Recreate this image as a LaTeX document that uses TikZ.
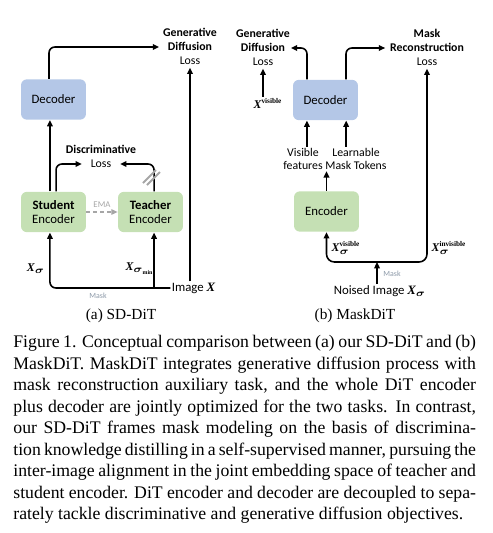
\documentclass[tikz,border=0pt]{standalone}
\usepackage{amsmath}
\usepackage{fontspec}
\setmainfont{Liberation Serif}
\newfontfamily\carlito{Carlito}
\usepackage{tikz}
\usetikzlibrary{arrows.meta, positioning, calc}
\definecolor{decblue}{HTML}{B4C7E7}
\definecolor{encgreen}{HTML}{C5E0B4}
\definecolor{emagray}{HTML}{A6A6A6}
\definecolor{maskgray}{HTML}{8C99A8}
\DeclareMathSizes{6}{6}{3.7}{3}
\newcommand{\bx}{\text{\rmfamily\bfseries\itshape X}}

\begin{document}
\begin{tikzpicture}[
    x=0.508pt, y=-0.508pt,
    block/.style={rounded corners=3pt, minimum width=33pt, minimum height=20.5pt,
                  align=center, inner sep=1pt, font=\carlito\fontsize{6.5}{7.2}\selectfont},
    decbox/.style={block, fill=decblue},
    encbox/.style={block, fill=encgreen},
    ttl/.style={inner sep=0.3pt, text height=4.5pt, text depth=1.3pt,
                font=\carlito\bfseries\fontsize{6}{7}\selectfont},
    losslbl/.style={ttl, font=\carlito\fontsize{6}{7}\selectfont},
    two/.style={inner sep=0.5pt, align=center, font=\carlito\fontsize{6}{6.8}\selectfont},
    sym/.style={inner sep=0.5pt, font=\fontsize{6}{7}\selectfont},
    note/.style={inner sep=0.5pt, text=maskgray, font=\carlito\fontsize{4}{5}\selectfont},
    input/.style={inner sep=0.5pt, font=\carlito\fontsize{6.5}{7}\selectfont},
    arr/.style={line width=0.8pt, -{Triangle[length=3.2pt,width=2.8pt]}},
    arrb/.style={arr, {Triangle[length=3.2pt,width=2.8pt]}-{Triangle[length=3.2pt,width=2.8pt]}},
    subcap/.style={font=\fontsize{7.8}{9}\selectfont}
  ]
  \useasboundingbox (0,0) rectangle (492,533);

  % (a) SD-DiT
  \node[decbox] (a-dec) at (53.5,99.5) {Decoder};
  \node[encbox] (stu) at (53.5,212) {\textbf{Student}\\Encoder};
  \node[encbox] (tea) at (150.5,212) {\textbf{Teacher}\\Encoder};

  \node[ttl] (a-dif) at (190,47) {Diffusion};
  \node[ttl, above=0.3pt of a-dif] (a-gen) {Generative};
  \node[losslbl, below=0.3pt of a-dif] (a-loss) {Loss};
  \node[losslbl] (dl) at (101,164) {Loss};
  \node[ttl, above=0.3pt of dl] (dis) {Discriminative};
  \node[input] (img) at (193.5,288) {Image \bx};

  \draw[arr] ([xshift=-1.8pt]stu.north) -- ([xshift=-1.8pt]a-dec.south);
  \draw[arr, rounded corners=3pt] ([xshift=-2.3pt]a-dec.north) |- ([xshift=-4pt]a-dif.west);
  \draw[arr, rounded corners=3pt] ([xshift=1.3pt]stu.north) |- ([xshift=-4pt]dl.west);
  \draw[arr, rounded corners=3pt] ([xshift=1.8pt]tea.north) |- ([xshift=4pt]dl.east);
  \draw[arr, rounded corners=3pt] (img.west) -| ([xshift=-1.8pt]stu.south);
  \draw[arr] ([xshift=1.8pt]tea.south |- img.west) -- ([xshift=1.8pt]tea.south);
  \draw[arr] (a-loss.south |- img.north) -- (a-loss.south);
  \draw[arr, emagray, line width=0.6pt, dash pattern=on 2pt off 1.5pt] (stu.east) -- (tea.west)
    node[midway, above=1.5pt, note, text=emagray, font=\carlito\fontsize{4.5}{5}\selectfont] (ema) {EMA};

  % stop gradient
  \coordinate (sg) at (152,177);
  \draw[emagray, line width=1pt] ($(sg)+(-9,6)$) -- ($(sg)+(4,-7)$);
  \draw[emagray, line width=1pt] ($(sg)+(-5,8)$) -- ($(sg)+(8,-5)$);

  \node[sym] (a-xs) at (36,269) {$\bx_{\boldsymbol{\sigma}}$};
  \node[sym] (a-xmin) at (140,269) {$\bx_{\boldsymbol{\sigma}_{\textbf{min}}}$};
  \node[note] (a-mask) at (98,296) {Mask};
  \node[subcap] (a-cap) at (121,316) {(a) SD-DiT};

  % (b) MaskDiT
  \node[decbox] (b-dec) at (325.5,100) {Decoder};
  \node[encbox] (enc) at (326.5,211.5) {Encoder};

  \node[ttl] (b-dif) at (263,48) {Diffusion};
  \node[ttl, above=0.3pt of b-dif] (b-gen) {Generative};
  \node[losslbl, below=0.3pt of b-dif] (b-gloss) {Loss};
  \node[ttl] (rec) at (427,48) {Reconstruction};
  \node[ttl, above=0.3pt of rec] (b-mask) {Mask};
  \node[losslbl, below=0.3pt of rec] (b-rloss) {Loss};

  \node[sym] (xv) at (268,103) {$\bx^{\textbf{visible}}$};
  \node[two] (vf) at (303,159) {Visible\\features};
  \node[two] (lmt) at (356,159) {Learnable\\Mask Tokens};
  \node[input] (nimg) at (380,291) {Noised Image $\bx_{\boldsymbol{\sigma}}$};
  \coordinate (join) at (377,262);

  \draw[arr] (b-gloss.south |- xv.north) -- (b-gloss.south);
  \draw[arr, rounded corners=3pt] ([xshift=-9.4pt]b-dec.north) |- ([xshift=2.5pt]b-dif.east);
  \draw[arr, rounded corners=3pt] ([xshift=10.4pt]b-dec.north) |- ([xshift=-2pt]rec.west);
  \draw[arr] ([xshift=2pt]vf.north) -- ([xshift=2pt]vf.north |- b-dec.south);
  \draw[arr] ([xshift=-5pt]lmt.north) -- ([xshift=-5pt]lmt.north |- b-dec.south);
  \draw[arr] (enc.north) -- (enc.north |- vf.south);
  \draw[arrb, rounded corners=4pt] (enc.south) |- (join) -| (b-rloss.south);
  \draw[arr] (join |- nimg.north) -- (join);

  \node[note] (b-mask-lbl) at (392,274) {Mask};
  \node[sym] (b-xv) at (346,248) {$\bx_{\boldsymbol{\sigma}}^{\textbf{visible}}$};
  \node[sym] (b-xi) at (449,248) {$\bx_{\boldsymbol{\sigma}}^{\textbf{invisible}}$};
  \node[subcap] (b-cap) at (355,316) {(b) MaskDiT};

  % caption
  \node[anchor=north west, inner sep=0pt, text width=235pt, align=justify,
        font=\fontsize{9}{10.92}\selectfont] (caption) at (13,335)
    {Figure 1. Conceptual comparison between (a) our SD-DiT and (b)\linebreak
     MaskDiT. MaskDiT integrates generative diffusion process with\linebreak
     mask reconstruction auxiliary task, and the whole DiT encoder\linebreak
     plus decoder are jointly optimized for the two tasks. In contrast,\linebreak
     our SD-DiT frames mask modeling on the basis of discrimina-\linebreak
     tion knowledge distilling in a self-supervised manner, pursuing the\linebreak
     inter-image alignment in the joint embedding space of teacher and\linebreak
     student encoder. DiT encoder and decoder are decoupled to sepa-\linebreak
     rately tackle discriminative and generative diffusion objectives.};
\end{tikzpicture}
\end{document}
